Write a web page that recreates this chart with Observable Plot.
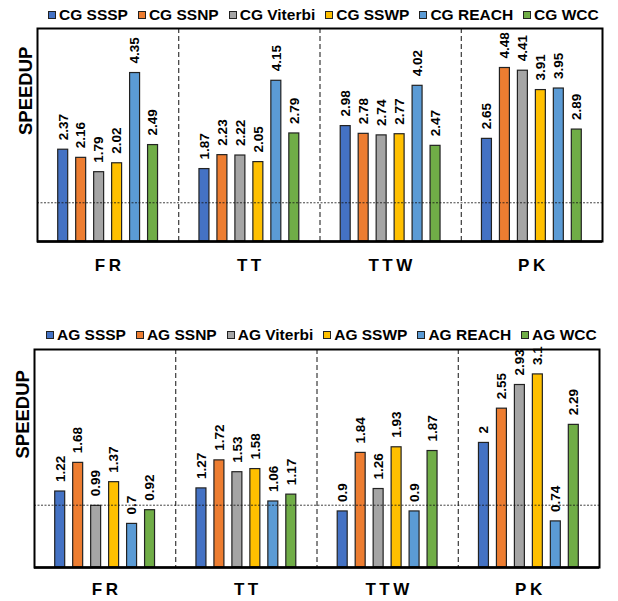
<!DOCTYPE html>
<html>
<head>
<meta charset="utf-8">
<script src="https://cdn.jsdelivr.net/npm/d3@7"></script>
<script src="https://cdn.jsdelivr.net/npm/@observablehq/plot@0.6"></script>
<style>
  html, body { margin: 0; padding: 0; background: #fff; }
  #root { position: relative; width: 618px; height: 601px; font-family: "Liberation Sans", Arial, sans-serif; }
  .legend { position: absolute; display: flex; align-items: center; height: 18px; font-weight: bold; font-size: 15.5px; white-space: nowrap; color: #000; }
  .legend .item { display: flex; align-items: center; margin-right: 10px; }
  .legend .sw { width: 8px; height: 8px; box-sizing: border-box; border: 1px solid #222; margin-right: 3px; }
  .panel { position: absolute; left: 0; }
</style>
</head>
<body>
<div id="root">
  <div class="legend" id="leg1" style="left:48px; top:6px;"></div>
  <div class="panel" id="p1" style="top:20px;"></div>
  <div class="legend" id="leg2" style="left:46px; top:326px;"></div>
  <div class="panel" id="p2" style="top:340px;"></div>
</div>
<script>
// ---- data ----
const groups = ["FR", "TT", "TTW", "PK"];
const series = ["SSSP", "SSNP", "Viterbi", "SSWP", "REACH", "WCC"];
const colors = ["#4472C4", "#ED7D31", "#A5A5A5", "#FFC000", "#5B9BD5", "#70AD47"];
// rows: groups (FR, TT, TTW, PK); columns: series
const cgValues = [
  [2.37, 2.16, 1.79, 2.02, 4.35, 2.49],
  [1.87, 2.23, 2.22, 2.05, 4.15, 2.79],
  [2.98, 2.78, 2.74, 2.77, 4.02, 2.47],
  [2.65, 4.48, 4.41, 3.91, 3.95, 2.89]
];
const agValues = [
  [1.22, 1.68, 0.99, 1.37, 0.7, 0.92],
  [1.27, 1.72, 1.53, 1.58, 1.06, 1.17],
  [0.9, 1.84, 1.26, 1.93, 0.9, 1.87],
  [2, 2.55, 2.93, 3.1, 0.74, 2.29]
];
const cgYDomain = [0, 5.5];
const agYDomain = [0, 3.5];
const baselineRef = 1;

// ---- layout ----
const step = 1 / 7.86;       // bar step within one group (group = 1 x-unit)
const barW = 0.555 * step;    // bar width
const font = "Liberation Sans, Arial, sans-serif";

function legend(el, prefix) {
  series.forEach((s, i) => {
    const item = document.createElement("div");
    item.className = "item";
    const sw = document.createElement("span");
    sw.className = "sw";
    sw.style.background = colors[i];
    const t = document.createElement("span");
    t.textContent = prefix + " " + s;
    item.appendChild(sw); item.appendChild(t);
    el.appendChild(item);
  });
  el.lastChild.style.marginRight = "0";
}

function panel(values, yDomain, opts) {
  const rows = groups.flatMap((g, gi) => series.map((s, si) => ({
    group: g, series: s, value: values[gi][si],
    xc: gi + 0.5 + (si - 2.5) * step
  })));
  const groupRows = groups.map((g, gi) => ({group: g, xc: gi + 0.5}));
  const svg = Plot.plot({
    width: 618,
    height: opts.height,
    marginTop: opts.marginTop,
    marginBottom: opts.marginBottom,
    marginLeft: opts.marginLeft,
    marginRight: opts.marginRight,
    style: {fontFamily: font, background: "white", overflow: "visible"},
    x: {domain: [0, groups.length], axis: null},
    y: {domain: yDomain, axis: null},
    color: {domain: series, range: colors},
    marks: [
      Plot.ruleX(d3.range(1, groups.length), {stroke: "#111", strokeWidth: 1, strokeDasharray: "5,3"}),
      Plot.rectY(rows, {
        x1: d => d.xc - barW / 2, x2: d => d.xc + barW / 2,
        y: "value", fill: "series", stroke: "#222", strokeWidth: 1.2
      }),
      Plot.ruleY([baselineRef], {stroke: "#111", strokeWidth: 0.8, strokeDasharray: "2,1.5"}),
      Plot.text(rows, {
        x: "xc", y: "value", text: d => String(d.value),
        rotate: -90, textAnchor: "start", dy: -9.5,
        fontSize: 13.5, fontWeight: "bold", fill: "black", fontFamily: font
      }),
      Plot.text(groupRows, {
        x: "xc", y: yDomain[0], text: "group", dy: opts.labelDy, dx: 1.5,
        fontSize: 17, fontWeight: "bold", fill: "black", fontFamily: font
      }),
      Plot.text(["SPEEDUP"], {
        frameAnchor: "left", rotate: -90, dx: opts.yLabelDx,
        fontSize: 18.5, fontWeight: "bold", fill: "black", fontFamily: font
      }),
      Plot.frame({stroke: "black", strokeWidth: 2}),
      Plot.ruleY([yDomain[0]], {stroke: "black", strokeWidth: 2.6})
    ]
  });
  svg.querySelectorAll("text").forEach(t => {
    if (groups.includes(t.textContent)) t.setAttribute("letter-spacing", "3.5");
  });
  return svg;
}

legend(document.getElementById("leg1"), "CG");
legend(document.getElementById("leg2"), "AG");

document.getElementById("p1").appendChild(panel(cgValues, cgYDomain, {
  height: 280, marginTop: 8, marginBottom: 59, marginLeft: 37, marginRight: 16, labelDy: 24, yLabelDx: -11
}));
document.getElementById("p2").appendChild(panel(agValues, agYDomain, {
  height: 261, marginTop: 9, marginBottom: 34, marginLeft: 34, marginRight: 19, labelDy: 22, yLabelDx: -11
}));
</script>
</body>
</html>
